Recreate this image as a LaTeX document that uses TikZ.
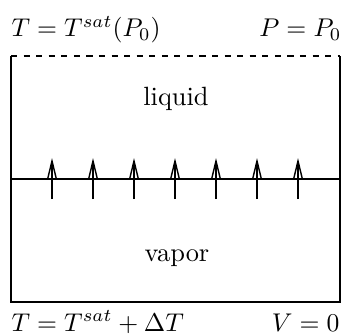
\documentclass[tikz,border=0pt]{standalone}
\usetikzlibrary{arrows.meta}
\begin{document}
\begin{tikzpicture}[x=0.39pt,y=-0.39pt,
  wall/.style={line width=0.6pt},
  lbl/.style={inner sep=0pt,font=\fontsize{10.3}{12}\selectfont},
  flux/.style={-{Straight Barb[length=7pt,width=3.4pt]},line width=0.55pt}]
\useasboundingbox (0,0) rectangle (343,336);
\coordinate (tl) at (11,56);
\coordinate (tr) at (340,56);
\coordinate (bl) at (11,302);
\coordinate (br) at (340,302);
\coordinate (il) at (11,179);
\coordinate (ir) at (340,179);
\draw[wall] (tl) -- (bl) -- (br) -- (tr);
\draw[wall,dash pattern=on 2.4pt off 2.5pt] (tl) -- (tr);
\draw[wall] (il) -- (ir);
\foreach \i/\x in {1/52,2/93,3/134,4/175,5/216,6/257,7/298}{
  \coordinate (a\i) at (\x,199);
  \coordinate (b\i) at (\x,158);
  \draw[flux] (a\i) -- (b\i);
}
\node[lbl,anchor=base west] (t1) at (11,36.5) {$T=T^{sat}(P_0)$};
\node[lbl,anchor=base east] (t2) at (342,36.5) {$P=P_0$};
\node[lbl,anchor=base west] (t3) at (11,331) {$T=T^{sat}+\Delta T$};
\node[lbl,anchor=base east] (t4) at (340,331) {$V=0$};
\node[lbl,anchor=base] (liq) at (176,105) {liquid};
\node[lbl,anchor=base] (vap) at (177,261) {vapor};
\end{tikzpicture}
\end{document}
